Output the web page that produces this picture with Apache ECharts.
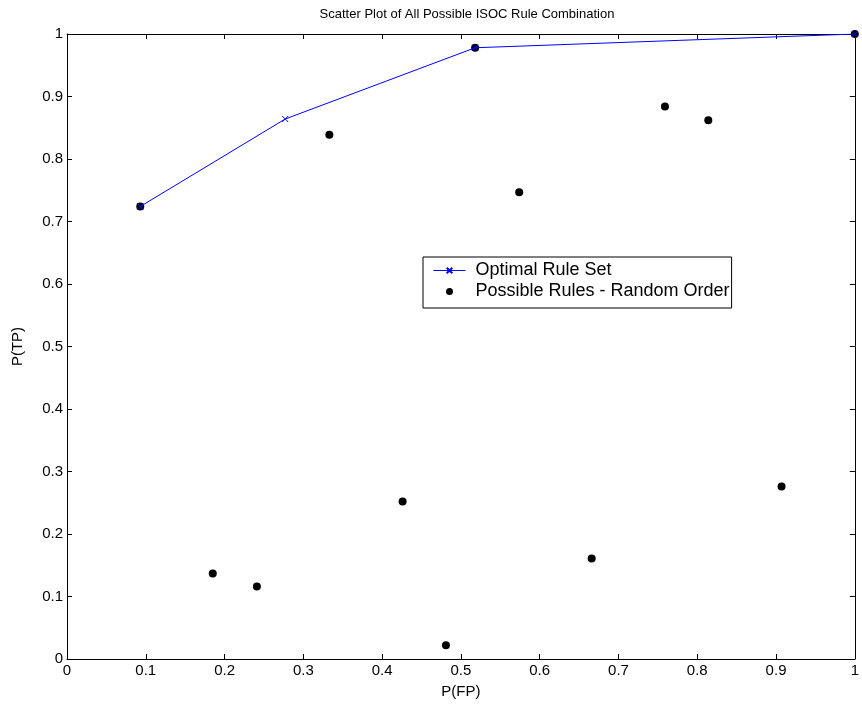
<!DOCTYPE html>
<html>
<head>
<meta charset="utf-8" />
<title>Scatter Plot of All Possible ISOC Rule Combination</title>
<script src="https://cdn.jsdelivr.net/npm/echarts@6/dist/echarts.min.js"></script>
<style>
  html, body { margin: 0; padding: 0; background: #fff; }
</style>
</head>
<body>
<div id="main" style="width: 862px;height:710px;"></div>
<script type="text/javascript">
// optimal rule set (ROC hull)
var optimalFP = [0.093, 0.277, 0.518, 1.0];
var optimalTP = [0.724, 0.864, 0.978, 1.0];

// possible rules, random order
var rulesFP = [0.093, 0.185, 0.241, 0.333, 0.426, 0.481, 0.518, 0.574, 0.666, 0.759, 0.814, 0.907, 1.0];
var rulesTP = [0.724, 0.137, 0.116, 0.839, 0.252, 0.022, 0.978, 0.747, 0.161, 0.884, 0.862, 0.276, 1.0];

function pairs(xs, ys) {
  var out = [];
  for (var i = 0; i < xs.length; i++) out.push([xs[i], ys[i]]);
  return out;
}

var myChart = echarts.init(document.getElementById('main'));
var font = 'Liberation Sans, Arial, sans-serif';
var crossPath = 'path://M0,0L10,10M10,0L0,10';

var baseAxis = {
  type: 'value',
  min: 0,
  max: 1,
  interval: 0.1,
  axisLine: { show: true, onZero: false, lineStyle: { color: '#000', width: 1 } },
  axisTick: { show: true, inside: true, length: 5, lineStyle: { color: '#000' } },
  splitLine: { show: false },
  axisLabel: { color: '#000', fontSize: 15, fontFamily: font }
};

var option = {
  animation: false,
  backgroundColor: '#fff',
  title: {
    text: 'Scatter Plot of All Possible ISOC Rule Combination',
    left: 462, top: 3, textAlign: 'center',
    textStyle: { fontSize: 13, fontWeight: 'normal', color: '#000', fontFamily: font }
  },
  grid: { left: 67, right: 5, top: 34, bottom: 51, containLabel: false },
  legend: {
    orient: 'vertical',
    left: 423, top: 257,
    width: 310,
    padding: [3, 2, 6, 10],
    itemGap: 0,
    itemWidth: 32, itemHeight: 7,
    borderColor: '#000', borderWidth: 1,
    backgroundColor: '#fff',
    lineStyle: { width: 1 },
    textStyle: { fontSize: 18, lineHeight: 21, color: '#000', fontFamily: font, padding: [0, 0, 0, 5] },
    data: ['Optimal Rule Set', 'Possible Rules - Random Order']
  },
  xAxis: [
    Object.assign({}, baseAxis, {
      name: 'P(FP)', nameLocation: 'middle', nameGap: 25,
      nameTextStyle: { fontSize: 15, color: '#000', fontFamily: font },
      axisLabel: Object.assign({}, baseAxis.axisLabel, { margin: 4 })
    }),
    Object.assign({}, baseAxis, { position: 'top', axisLabel: { show: false } })
  ],
  yAxis: [
    Object.assign({}, baseAxis, {
      name: 'P(TP)', nameLocation: 'middle', nameGap: 42,
      nameTextStyle: { fontSize: 15, color: '#000', fontFamily: font },
      axisLabel: Object.assign({}, baseAxis.axisLabel, { margin: 4 })
    }),
    Object.assign({}, baseAxis, { position: 'right', axisLabel: { show: false } })
  ],
  series: [
    {
      name: 'Possible Rules - Random Order',
      type: 'scatter',
      symbol: 'circle',
      symbolSize: 8,
      itemStyle: { color: '#000', opacity: 1 },
      data: pairs(rulesFP, rulesTP),
      z: 2
    },
    {
      name: 'Optimal Rule Set',
      type: 'line',
      symbol: crossPath,
      symbolSize: 6,
      showAllSymbol: true,
      lineStyle: { color: '#0000ff', width: 1 },
      itemStyle: { color: 'none', borderColor: '#0000ff', borderWidth: 1 },
      data: pairs(optimalFP, optimalTP),
      z: 3
    }
  ]
};

myChart.setOption(option);
</script>
</body>
</html>
